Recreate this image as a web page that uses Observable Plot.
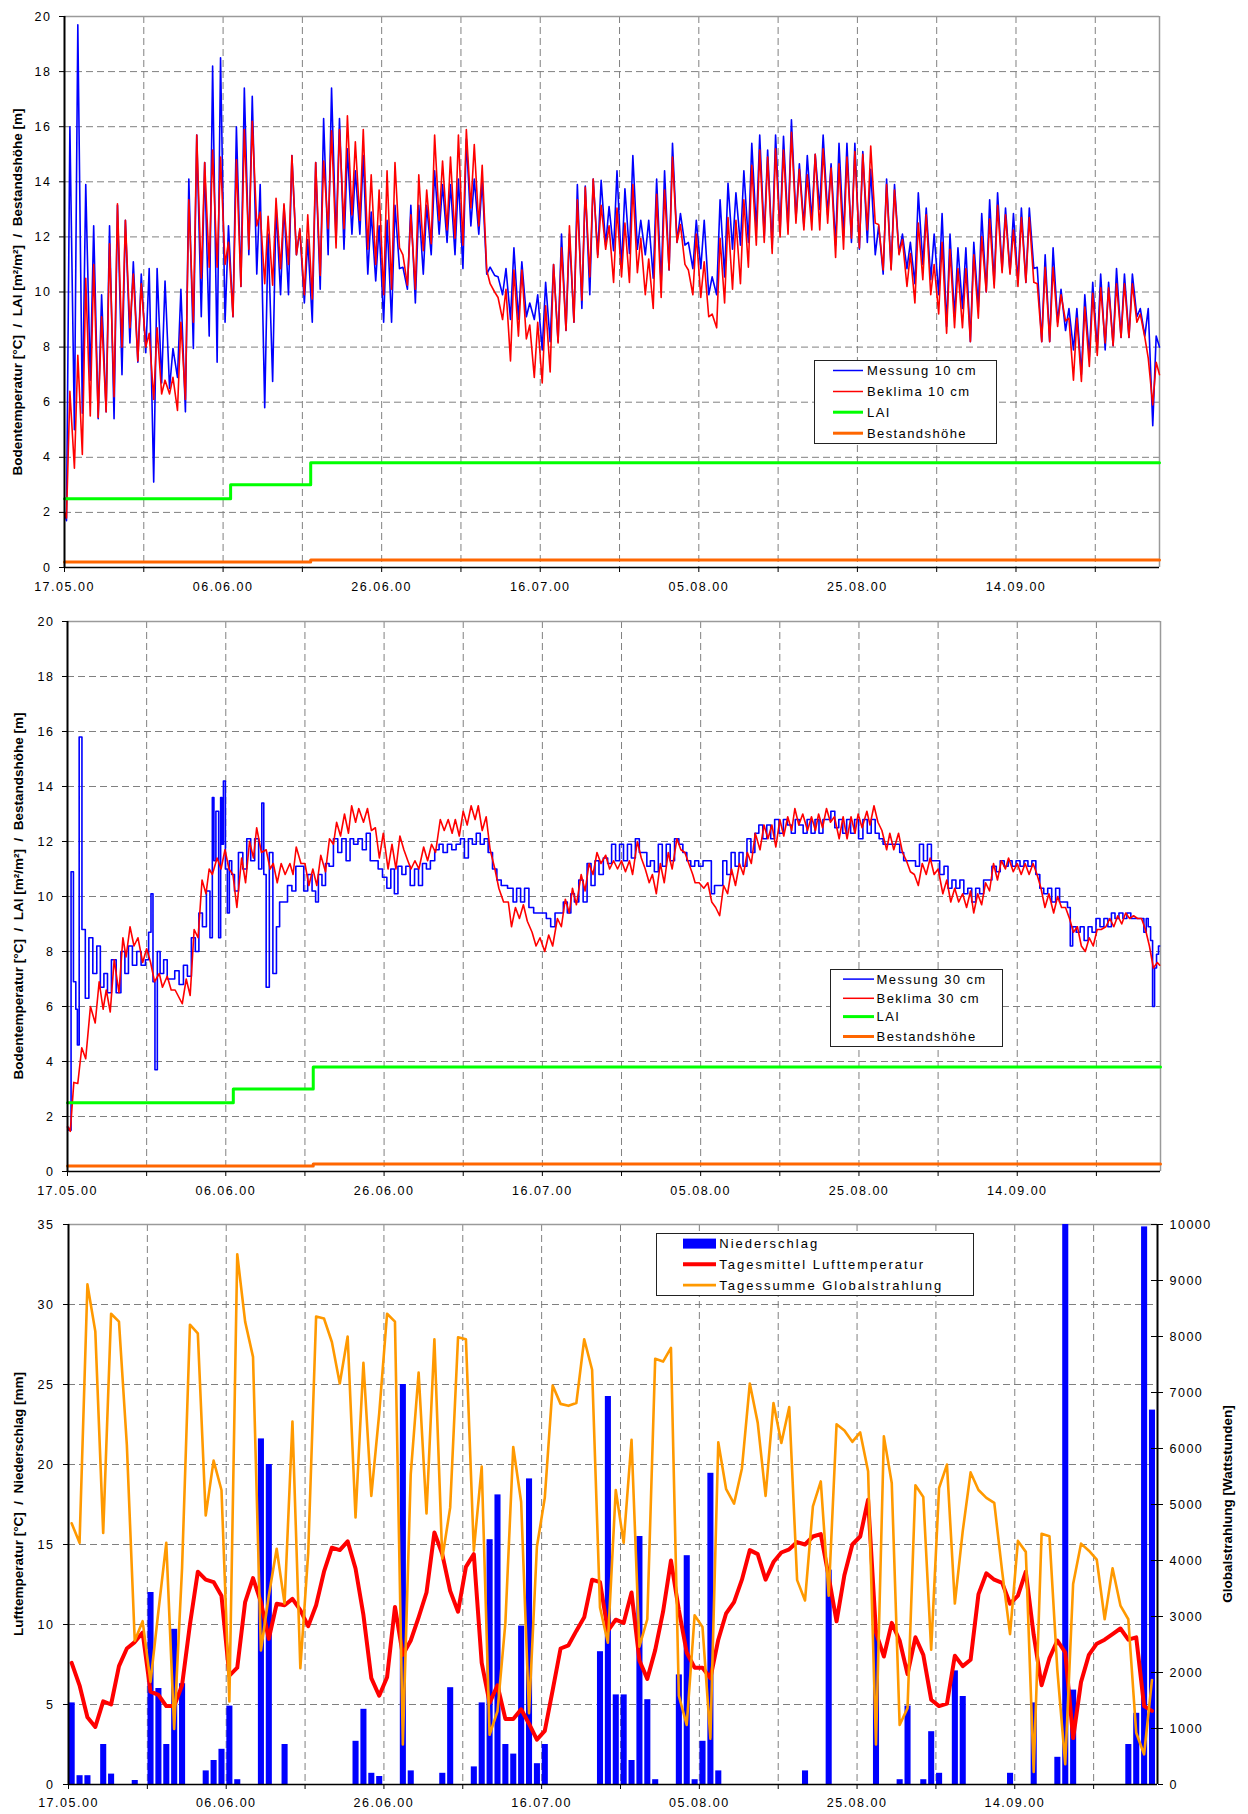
<!DOCTYPE html>
<html><head><meta charset="utf-8">
<script src="https://cdn.jsdelivr.net/npm/d3@7"></script>
<script src="https://cdn.jsdelivr.net/npm/@observablehq/plot@0.6"></script>
<style>
html,body{margin:0;padding:0;background:#fff;}
#wrap{position:relative;width:1248px;height:1814px;overflow:hidden;font-family:"Liberation Sans",Arial,sans-serif;}
#wrap svg.panel{position:absolute;left:0;}
#wrap svg.panel text{letter-spacing:1.5px;}
.ytitle{position:absolute;white-space:pre;font-weight:bold;font-size:13.5px;line-height:15px;transform:translate(-50%,-50%) rotate(-90deg);color:#000;}
.legend{position:absolute;border:1.5px solid #222;background:#fff;box-sizing:border-box;}
</style></head>
<body><div id="wrap"></div>
<script>
// ---------- shared axis data ----------
const xEnd = 138.1;                      // days after 17.05.00 shown on the axes
const tickDays = [0,10,20,30,40,50,60,70,80,90,100,110,120,130];
const gridDays = [10,20,30,40,50,60,70,80,90,100,110,120,130];
const dateLabelDays = [0,20,40,60,80,100,120];
const dateLabels = ["17.05.00","06.06.00","26.06.00","16.07.00","05.08.00","25.08.00","14.09.00"];

// ---------- panel 1: 10 cm (daily low / high values) ----------
const mess10Lo = [1.7,5.0,5.6,6.8,5.4,5.65,5.4,7.0,8.15,7.45,
 7.8,3.1,6.7,6.5,6.9,5.65,7.95,9.1,8.4,7.45,
 8.9,9.1,10.2,11.35,10.65,5.8,6.75,9.9,9.9,11.35,
 9.6,8.9,10.1,11.35,11.8,11.55,12.1,12.1,10.65,10.4,
 8.9,8.9,10.85,10.1,9.6,10.65,11.35,12.1,11.8,11.35,
 10.85,12.4,12.1,10.65,10.6,9.9,9.0,9.0,9.1,9.0,
 7.9,8.2,8.2,8.6,8.9,9.4,9.9,11.35,11.7,11.5,
 10.85,11.4,11.55,11.35,10.5,10.3,10.8,11.8,11.7,10.85,
 10.85,9.9,9.9,10.55,11.55,11.7,11.8,12.25,12.0,11.6,
 12.2,12.3,12.65,12.4,12.6,13.0,12.8,11.7,12.0,11.8,
 11.55,11.8,11.35,10.65,10.85,11.4,10.85,10.3,11.0,10.45,
 9.9,8.75,9.1,9.4,8.2,9.45,10.0,10.3,10.8,10.7,
 10.35,10.35,10.85,8.2,8.2,8.9,8.6,7.9,7.0,7.65,
 7.9,7.9,8.05,8.35,8.35,9.1,8.4,5.15];
const mess10Hi = [16.0,19.7,13.9,12.4,9.9,12.4,13.15,12.6,11.1,10.65,
 10.85,10.85,10.4,7.95,10.1,14.1,15.7,14.7,18.2,18.5,
 12.4,16.0,17.4,17.1,13.9,12.1,13.15,13.15,14.95,12.25,
 11.9,14.7,16.3,17.4,16.3,15.2,14.4,14.95,12.9,12.4,
 12.6,13.15,10.9,13.15,13.15,13.15,14.4,13.9,13.9,14.1,
 15.55,14.1,14.05,10.9,10.55,10.85,11.6,11.1,9.6,9.9,
 10.35,11.0,12.1,12.1,13.9,13.85,14.1,14.05,13.1,14.4,
 13.75,14.95,12.6,12.6,14.1,14.4,15.4,12.85,11.8,12.6,
 12.6,10.55,13.35,13.95,13.6,14.4,15.4,15.7,15.15,15.7,
 15.65,16.25,14.65,14.95,15.0,15.7,14.65,15.4,15.4,15.4,
 15.1,14.45,12.4,14.1,13.9,12.1,11.8,13.6,13.05,12.1,
 12.85,12.1,11.6,11.6,11.8,12.85,13.35,13.6,13.05,12.85,
 13.05,13.05,10.9,11.35,11.6,10.1,9.4,9.4,9.9,10.35,
 10.65,10.35,10.85,10.65,10.65,9.4,9.4,8.4];
const bek10Lo = [1.8,3.6,4.1,5.5,5.45,5.65,6.2,8.0,8.7,7.5,
 8.0,6.1,6.3,6.3,5.7,6.1,8.9,10.5,10.9,10.9,
 11.0,9.1,10.2,11.55,12.4,10.3,10.25,10.85,11.0,11.35,
 9.9,9.75,10.6,12.3,11.6,12.3,12.8,12.6,11.55,11.0,
 9.9,10.1,11.6,10.25,10.1,11.5,11.75,12.6,12.25,11.95,
 11.7,13.05,12.4,10.8,10.0,9.0,7.5,8.4,8.3,6.9,
 6.7,7.1,8.15,8.6,8.9,9.7,10.55,11.25,11.55,10.35,
 10.55,10.35,10.7,9.9,9.4,9.8,10.8,11.8,11.0,9.9,
 9.8,9.1,8.7,9.6,10.1,10.3,10.9,11.7,11.8,11.4,
 12.0,12.1,12.5,12.25,12.25,12.25,12.5,11.25,11.55,11.95,
 11.6,12.25,12.5,10.8,10.8,11.35,10.2,9.6,10.45,9.9,
 9.2,8.5,8.7,8.7,8.2,9.05,10.0,10.15,10.7,10.65,
 10.2,10.35,10.35,8.2,8.2,8.75,8.95,6.8,6.75,7.3,
 7.7,8.15,8.05,8.35,8.35,8.9,8.35,5.9];
const bek10Hi = [6.4,7.7,10.5,11.0,9.1,11.75,13.2,12.6,10.65,10.3,
 8.5,8.7,6.8,6.9,8.9,13.35,15.7,14.7,15.15,14.9,
 11.8,14.8,15.9,16.2,12.9,12.75,13.4,13.2,14.95,12.3,
 12.8,14.7,14.75,15.85,15.9,16.4,15.45,15.9,14.25,13.7,
 14.4,14.7,11.35,12.8,14.25,13.7,15.7,14.75,14.9,15.7,
 15.9,15.35,14.6,10.3,9.8,10.1,10.8,10.8,8.8,8.9,
 9.5,11.0,11.6,12.4,13.35,13.8,14.1,13.15,12.4,13.05,
 12.5,13.9,11.95,11.2,13.55,13.7,14.9,12.45,10.8,12.1,
 11.1,9.2,11.95,12.7,12.6,13.35,14.6,15.15,14.9,15.2,
 15.15,15.8,14.45,14.25,15.0,15.2,14.5,14.65,14.9,15.1,
 15.0,15.3,12.45,13.9,13.7,11.9,11.4,12.5,12.8,11.0,
 11.8,11.55,10.85,10.85,11.35,12.0,12.65,13.15,12.8,12.25,
 12.7,12.7,10.3,10.9,10.9,9.9,9.05,9.05,9.45,9.95,
 10.15,10.15,10.3,10.3,10.3,9.2,7.6,7.45];
const mess10StartEnd = [2.0, 8.0];
const bek10StartEnd = [2.0, 7.0];

// LAI and Bestandshöhe (step changes)
const laiT = [0, 20.95, 31.05, 138.1];
const laiV = [2.5, 3.0, 3.8, 3.8];
const hoeheT = [0, 31.05, 138.1];
const hoeheV = [0.2, 0.27, 0.27];

// ---------- panel 2: 30 cm ([day, value] vertices) ----------
const mess30 = [[0,1.6],[0.3,1.5],[0.6,10.9],[0.9,6.9],[1.2,5.9],[1.3,4.6],[1.65,15.8],[2.0,8.8],[2.5,6.3],[2.9,8.5],[3.5,7.2],[3.9,8.2],[4.4,6.7],[4.8,7.2],[5.3,6.5],[5.8,7.7],[6.5,6.5],[7.0,8.0],[7.5,7.2],[7.9,8.2],[8.5,7.5],[9.0,8.0],[9.6,7.5],[10.1,7.7],[10.4,8.7],[10.7,10.1],[10.9,6.9],[11.2,3.7],[11.5,8.0],[11.9,7.2],[12.4,7.7],[12.8,7.0],[13.3,7.0],[13.8,7.3],[14.4,6.8],[14.9,7.5],[15.4,7.1],[15.9,8.5],[16.4,8.0],[16.8,9.4],[17.3,8.9],[17.8,10.2],[18.2,8.5],[18.4,13.6],[18.6,11.3],[18.9,13.1],[19.3,8.5],[19.4,13.6],[19.6,11.9],[19.8,14.2],[20.1,11.0],[20.3,9.4],[20.6,11.3],[20.9,10.8],[21.3,10.2],[21.9,11.6],[22.4,11.0],[22.9,12.1],[23.4,11.3],[23.9,12.1],[24.4,11.0],[24.7,13.4],[24.9,10.8],[25.3,6.7],[25.7,11.6],[26.2,7.2],[26.6,8.9],[27.0,9.8],[27.5,9.8],[28.1,10.4],[28.6,10.2],[29.1,11.1],[29.6,11.1],[30.1,10.2],[30.6,10.8],[31.2,10.2],[31.5,9.8],[31.9,10.8],[32.4,10.4],[32.8,11.2],[33.3,11.1],[33.9,12.1],[34.4,11.6],[34.9,12.1],[35.5,11.3],[35.9,12.1],[36.4,11.9],[37.0,12.1],[37.5,11.7],[38.0,12.3],[38.5,11.3],[39.0,11.3],[39.5,11.0],[40.1,10.7],[40.6,10.3],[41.1,11.0],[41.5,10.1],[42.0,11.1],[42.5,10.8],[43.0,11.1],[43.6,10.4],[44.1,11.0],[44.6,10.4],[45.1,11.2],[45.6,11.0],[46.1,11.3],[46.7,11.7],[47.2,11.9],[47.7,11.6],[48.3,11.9],[48.8,11.7],[49.4,11.9],[49.9,12.1],[50.4,11.4],[50.9,12.1],[51.4,11.9],[51.9,12.3],[52.4,11.9],[52.9,12.1],[53.4,11.6],[54.0,11.0],[54.5,10.6],[55.1,10.4],[56.1,10.3],[56.5,9.8],[57.0,10.3],[57.5,9.8],[58.0,10.3],[58.6,9.6],[59.2,9.4],[60.2,9.4],[60.8,9.2],[61.3,8.9],[61.9,9.4],[62.4,9.4],[62.9,9.8],[63.4,9.4],[63.8,10.1],[64.3,9.8],[64.9,10.6],[65.4,9.8],[65.9,11.2],[66.4,10.4],[66.9,11.3],[67.4,10.8],[68.0,11.4],[68.5,11.2],[69.0,11.9],[69.5,11.3],[70.0,11.9],[70.5,11.3],[71.0,11.9],[71.5,11.4],[72.0,12.1],[72.5,11.6],[73.0,11.6],[73.4,11.1],[73.9,11.3],[74.4,10.9],[74.9,11.9],[75.4,11.1],[75.9,11.9],[76.4,11.3],[77.0,12.1],[77.5,11.9],[78.0,11.6],[78.5,11.3],[79.0,11.1],[79.5,11.3],[80.0,11.1],[80.6,11.3],[81.2,11.3],[81.5,10.1],[82.0,10.4],[82.6,10.4],[83.0,11.3],[83.6,10.8],[84.1,11.6],[84.6,11.1],[85.1,11.6],[85.6,11.1],[86.1,12.1],[86.6,11.6],[87.1,12.3],[87.6,12.6],[88.1,12.1],[88.6,12.6],[89.1,12.1],[89.6,12.8],[90.2,12.3],[90.7,12.8],[91.2,12.6],[91.7,12.3],[92.2,12.8],[92.7,12.6],[93.2,12.3],[93.7,12.8],[94.2,12.3],[94.7,12.8],[95.2,12.3],[95.7,12.8],[96.2,12.8],[96.7,13.1],[97.2,12.5],[97.7,12.8],[98.2,12.3],[98.7,12.8],[99.2,12.3],[99.7,12.8],[100.2,12.1],[100.8,12.8],[101.3,12.3],[101.8,12.8],[102.3,12.3],[102.8,12.1],[103.3,11.9],[104.4,11.9],[104.9,11.9],[105.4,11.6],[105.9,11.3],[106.9,11.3],[107.4,11.1],[107.9,11.9],[108.4,11.3],[108.9,11.9],[109.4,11.3],[109.9,11.3],[110.5,10.8],[111.0,11.1],[111.5,10.3],[112.0,10.6],[112.5,10.3],[113.0,10.6],[113.5,10.1],[114.0,10.3],[114.5,9.8],[115.0,10.3],[115.5,10.1],[116.0,10.6],[116.5,10.6],[117.1,11.1],[117.6,10.9],[118.1,11.3],[118.6,11.1],[119.1,11.3],[119.6,11.1],[120.1,11.3],[120.6,11.1],[121.1,11.3],[121.6,11.1],[122.1,11.3],[122.6,10.8],[123.1,10.3],[123.6,10.1],[124.1,10.3],[124.6,9.8],[125.1,10.3],[125.6,9.8],[126.1,9.8],[126.6,9.6],[126.8,8.2],[127.2,8.9],[127.7,8.7],[128.2,8.9],[128.7,8.4],[129.2,8.9],[129.7,8.7],[130.2,9.2],[130.7,8.9],[131.2,9.2],[131.7,8.9],[132.1,9.4],[132.6,9.2],[133.1,9.4],[133.6,9.2],[134.1,9.4],[134.6,9.2],[135.3,9.2],[135.8,9.2],[136.2,8.7],[136.4,9.2],[136.7,8.9],[137.0,8.4],[137.2,6.0],[137.5,7.4],[137.7,7.9],[138.0,8.2]];
const bek30 = [[0,1.64],[0.35,1.46],[0.8,3.24],[1.3,3.2],[1.8,4.5],[2.3,4.1],[2.9,6.0],[3.5,5.4],[4.0,6.9],[4.5,5.9],[4.9,6.6],[5.4,5.8],[5.9,7.7],[6.5,6.5],[7.0,8.5],[7.4,7.8],[7.9,8.9],[8.4,8.2],[8.9,8.5],[9.5,7.6],[10.0,8.1],[10.5,7.6],[11.0,6.9],[11.6,7.2],[12.0,6.7],[12.6,7.1],[13.1,6.6],[13.6,6.6],[14.5,6.1],[15.0,7.0],[15.5,6.4],[16.0,8.8],[16.5,8.5],[17.0,10.6],[17.5,10.1],[17.9,11.0],[18.3,10.8],[18.9,11.4],[19.4,11.0],[19.9,11.7],[20.4,11.0],[20.9,10.8],[21.4,9.6],[22.0,11.4],[22.5,10.5],[23.0,12.0],[23.5,11.4],[23.9,12.5],[24.5,11.6],[25.1,11.7],[25.6,11.0],[26.0,11.2],[26.5,10.5],[27.0,11.2],[27.5,10.8],[28.1,11.2],[28.5,10.8],[28.9,11.8],[29.5,11.2],[30.0,11.2],[30.5,10.4],[31.0,11.0],[31.5,10.4],[32.0,11.5],[32.6,10.9],[33.1,12.1],[33.6,11.9],[34.0,12.7],[34.5,12.2],[35.0,13.0],[35.5,12.3],[35.9,13.3],[36.4,12.7],[36.8,13.2],[37.4,12.7],[37.9,13.2],[38.4,12.4],[38.9,12.5],[39.4,11.4],[39.9,12.3],[40.5,11.0],[41.0,11.9],[41.5,11.0],[42.0,12.2],[42.5,11.7],[43.0,11.3],[43.4,11.0],[43.9,11.3],[44.4,11.0],[45.0,11.8],[45.5,11.3],[46.0,11.9],[46.5,11.6],[47.1,12.8],[47.6,12.4],[48.1,12.8],[48.6,12.3],[49.0,12.8],[49.5,12.2],[50.0,13.1],[50.5,12.6],[51.0,13.3],[51.5,12.8],[51.9,13.3],[52.4,12.4],[52.9,12.9],[53.4,11.7],[54.0,11.0],[54.5,10.3],[55.1,9.8],[55.7,9.8],[56.1,8.9],[56.6,9.6],[57.1,9.2],[57.6,9.7],[58.1,9.1],[58.7,8.7],[59.2,8.2],[59.7,8.5],[60.3,8.0],[60.8,8.6],[61.3,8.2],[61.9,9.2],[62.4,8.9],[62.9,9.9],[63.4,9.4],[63.8,10.3],[64.3,9.7],[64.9,10.8],[65.4,10.2],[65.9,11.2],[66.4,10.8],[66.9,11.6],[67.4,11.2],[68.0,11.5],[68.5,11.0],[69.0,11.3],[69.5,11.0],[70.0,11.3],[70.5,10.9],[71.0,11.3],[71.4,10.8],[72.0,12.0],[72.5,11.4],[73.0,11.0],[73.5,10.5],[73.9,10.8],[74.4,10.1],[74.9,11.2],[75.4,10.5],[75.9,11.6],[76.4,11.0],[77.0,12.1],[77.5,11.7],[78.0,11.6],[78.5,11.2],[79.0,10.8],[79.3,10.5],[79.8,10.5],[80.4,10.3],[80.9,10.5],[81.4,9.8],[81.9,9.6],[82.4,9.3],[82.9,10.4],[83.4,10.1],[83.9,11.0],[84.4,10.4],[84.9,11.2],[85.4,10.8],[85.9,11.6],[86.4,11.2],[86.9,12.3],[87.5,11.7],[88.0,12.6],[88.5,12.1],[89.0,12.6],[89.5,11.8],[90.0,12.8],[90.5,12.2],[91.0,12.9],[91.5,12.4],[91.9,13.2],[92.4,12.6],[92.9,13.0],[93.5,12.4],[94.0,12.9],[94.5,12.4],[94.9,13.0],[95.4,12.5],[95.9,13.2],[96.4,12.7],[96.9,12.9],[97.5,12.1],[98.0,12.9],[98.5,12.1],[99.0,12.9],[99.5,12.3],[99.9,13.0],[100.4,12.5],[101.0,13.1],[101.4,12.6],[101.9,13.3],[102.4,12.7],[102.9,12.4],[103.5,11.7],[103.9,12.3],[104.4,11.7],[105.0,12.3],[105.5,11.6],[106.0,11.3],[106.5,10.9],[107.0,10.8],[107.5,10.4],[108.0,11.2],[108.5,10.8],[109.0,11.4],[109.5,10.8],[110.0,11.0],[110.6,10.1],[111.1,10.6],[111.6,9.8],[112.1,10.3],[112.6,9.8],[113.1,10.1],[113.6,9.6],[114.1,10.2],[114.5,9.4],[115.0,10.1],[115.5,9.7],[116.0,10.5],[116.5,10.2],[117.0,11.2],[117.5,10.6],[118.0,11.3],[118.5,11.0],[118.9,11.4],[119.5,10.9],[120.0,11.2],[120.5,10.8],[121.0,11.2],[121.5,10.8],[122.0,11.2],[122.5,10.8],[123.0,10.3],[123.5,9.6],[124.0,10.1],[124.6,9.4],[125.1,10.0],[125.6,9.6],[126.1,9.6],[126.6,9.2],[127.1,8.7],[127.6,8.9],[128.1,8.2],[128.6,8.0],[129.1,8.5],[129.6,8.2],[130.1,8.8],[130.6,8.8],[131.2,8.9],[131.7,9.2],[132.2,8.9],[132.7,9.3],[133.2,9.0],[133.7,9.4],[134.2,9.2],[134.7,9.3],[135.2,9.2],[135.7,9.2],[136.2,8.8],[136.7,8.2],[137.2,7.4],[137.7,7.6],[138.0,7.5]];

// ---------- panel 3: daily values (day 0 = 17.05.00) ----------
const niederschlag = [5.1,0.55,0.55,0,2.5,0.65,0,0,0.25,0,
 12.0,6.0,2.5,9.7,6.3,0,0,0.85,1.5,2.2,
 4.9,0.3,0,0,21.6,20.0,0,2.5,0,0,
 0,0,0,0,0,0,2.7,4.7,0.7,0.5,
 0,0,25.0,0.85,0,0,0,0.7,6.05,0,
 0,1.1,5.1,15.3,18.1,2.5,1.9,9.9,19.1,1.3,
 2.5,0,0,0,0,0,0,8.3,24.25,5.6,
 5.6,1.5,15.5,5.3,0.3,0,0,6.85,14.3,0.3,
 2.7,19.45,0.85,0,0,0,0,0,0,0,
 0,0,0,0.85,0,0,13.4,0,0,0,
 0,0,9.6,0,0,0.3,4.9,0,0.3,3.3,
 0.7,0,7.1,5.5,0,0,0,0,0,0.7,
 0,0,5.1,0,0,1.7,36,5.9,0,0,
 0,0,0,0,2.5,4.45,34.85,23.4];
const tagesmittel = [7.6,6.2,4.2,3.6,5.2,5.0,7.4,8.5,8.9,9.5,
 5.8,5.6,4.9,4.9,6.2,10.0,13.3,12.8,12.65,11.8,
 6.8,7.3,11.4,12.9,11.4,9.1,11.3,11.2,11.6,10.9,
 9.9,11.2,13.3,14.8,14.65,15.2,13.5,10.6,6.65,5.55,
 6.7,11.1,8.1,9.0,10.45,12.0,15.75,14.4,12.1,10.8,
 13.6,14.4,7.6,5.1,6.2,4.1,4.1,4.7,3.8,2.8,
 3.35,5.9,8.5,8.7,9.6,10.45,12.8,12.65,9.6,10.3,
 10.1,12.0,7.75,6.6,8.4,10.8,14.0,10.9,8.25,7.3,
 7.3,6.65,9.05,10.7,11.4,12.8,14.65,14.4,12.8,13.9,
 14.5,14.7,15.15,15.0,15.5,15.65,13.0,10.2,13.1,15.0,
 15.5,17.8,9.5,8.0,10.1,9.0,6.9,9.2,8.1,5.3,
 4.9,5.05,8.05,7.4,7.8,11.9,13.2,12.8,12.6,11.3,
 11.8,13.3,9.35,6.2,7.9,9.0,8.25,2.9,6.4,8.1,
 8.8,9.05,9.4,9.75,9.05,9.2,4.9,4.6];
const globalstrahlung = [4664,4315,8930,8091,4490,8406,8266,6063,2566,2916,
 1832,3090,4315,993,3860,8210,8056,4804,5783,5259,
 1483,9469,8266,7636,2392,3371,4210,3231,6483,2077,
 4140,8357,8322,7902,7161,8000,4769,7531,5154,6622,
 8406,8266,713,5538,7357,4839,7951,4035,4944,7986,
 7951,4175,5678,888,1308,2881,6028,5049,1273,4245,
 5119,7126,6797,6762,6811,7951,7406,3161,2531,5259,
 4315,6154,2462,2951,7601,7552,7797,1587,1063,3021,
 2811,818,6112,5273,5014,5643,7161,6462,5154,6811,
 6098,6741,3650,3287,4965,5413,3371,6434,6322,6119,
 6287,5594,713,6217,5385,1063,1364,5343,5133,2406,
 5294,5713,3231,4524,5573,5259,5119,5028,3804,2685,
 4350,4154,224,4476,4434,2042,364,3580,4301,4175,
 4014,2951,3860,3196,2951,923,538,1867];

// ---------- texts ----------
const titleSoil = "Bodentemperatur [°C]  /  LAI [m²/m²]  /  Bestandshöhe [m]";
const titleAir = "Lufttemperatur [°C]  /  Niederschlag [mm]";
const titleRad = "Globalstrahlung [Wattstunden]";
const legend1Labels = ["Messung 10 cm","Beklima 10 cm","LAI","Bestandshöhe"];
const legend2Labels = ["Messung 30 cm","Beklima 30 cm","LAI","Bestandshöhe"];
const legend3Labels = ["Niederschlag","Tagesmittel Lufttemperatur","Tagessumme Globalstrahlung"];

// ---------- colours ----------
const BLUE = "#0000ff", RED = "#ff0000", GREEN = "#00ff00", ORANGE = "#ff6600", AMBER = "#ff9900";
const GRID = "#808080", BORDER = "#9a9a9a";
const FONT = "'Liberation Sans', Arial, sans-serif";

const wrap = document.getElementById("wrap");
const fmtDate = d => { const i = dateLabelDays.indexOf(d); return i >= 0 ? dateLabels[i] : ""; };

function diurnal(lo, hi, se) {
  const pts = [[0, se[0]]];
  lo.forEach((v, d) => { pts.push([d + 0.25, v]); pts.push([d + 0.68, hi[d]]); });
  pts.push([xEnd, se[1]]);
  return pts;
}
const stepPts = (T, V) => T.map((t, i) => [t, V[i]]);

function place(svg, top) {
  svg.classList.add("panel");
  svg.style.top = top + "px";
  wrap.appendChild(svg);
}
const baseStyle = {fontFamily: FONT, fontSize: "12.5px", overflow: "visible", background: "transparent", color: "#000"};

function soilPanel(top, m, blueData, redData, blueCurve) {
  const svg = Plot.plot({
    width: 1248, height: 600,
    marginTop: m.t, marginBottom: m.b, marginLeft: m.l, marginRight: m.r,
    x: {domain: [0, xEnd]}, y: {domain: [0, 20]},
    style: baseStyle,
    marks: [
      Plot.ruleY(d3.range(2, 20, 2), {stroke: GRID, strokeWidth: 1, strokeDasharray: "7,4"}),
      Plot.ruleX(gridDays, {stroke: GRID, strokeWidth: 1, strokeDasharray: "7,4"}),
      Plot.ruleY([20], {stroke: BORDER, strokeWidth: 1.5}),
      Plot.ruleX([xEnd], {stroke: BORDER, strokeWidth: 1.5}),
      Plot.line(blueData, {stroke: BLUE, strokeWidth: 1.6, curve: blueCurve}),
      Plot.line(redData, {stroke: RED, strokeWidth: 1.6}),
      Plot.line(stepPts(laiT, laiV), {stroke: GREEN, strokeWidth: 3, curve: "step-after"}),
      Plot.line(stepPts(hoeheT, hoeheV), {stroke: ORANGE, strokeWidth: 3, curve: "step-after"}),
      Plot.ruleX([0], {stroke: "#000", strokeWidth: 2}),
      Plot.ruleY([0], {stroke: "#000", strokeWidth: 1.5}),
      Plot.axisY({ticks: d3.range(0, 21, 2), tickSize: 5, tickPadding: 8, label: null}),
      Plot.axisX({ticks: tickDays, tickFormat: fmtDate, tickSize: 5, tickPadding: 10, label: null})
    ]
  });
  place(svg, top);
}

soilPanel(0, {t: 16, b: 33, l: 64, r: 89}, diurnal(mess10Lo, mess10Hi, mess10StartEnd), diurnal(bek10Lo, bek10Hi, bek10StartEnd), "linear");
soilPanel(600, {t: 21, b: 29, l: 67, r: 88}, mess30, bek30, "step");

// panel 3
const radK = 35 / 10000;
const radTicks = d3.range(0, 10001, 1000).map(v => v * radK);
const days = niederschlag.map((_, i) => i);
const svg3 = Plot.plot({
  width: 1248, height: 614,
  marginTop: 24, marginBottom: 30, marginLeft: 68, marginRight: 91,
  x: {domain: [0, xEnd]}, y: {domain: [0, 35]},
  style: baseStyle,
  marks: [
    Plot.ruleY(d3.range(5, 35, 5), {stroke: GRID, strokeWidth: 1, strokeDasharray: "7,4"}),
    Plot.ruleX(gridDays, {stroke: GRID, strokeWidth: 1, strokeDasharray: "7,4"}),
    Plot.ruleY([35], {stroke: BORDER, strokeWidth: 1.5}),
    Plot.rectY(days, {x1: d => d + 0.08, x2: d => d + 0.85, y1: 0, y2: d => niederschlag[d], fill: BLUE, clip: true}),
    Plot.line(days, {x: d => d + 0.4, y: d => tagesmittel[d], stroke: RED, strokeWidth: 4, strokeLinejoin: "round"}),
    Plot.line(days, {x: d => d + 0.4, y: d => globalstrahlung[d] * radK, stroke: AMBER, strokeWidth: 2.6}),
    Plot.ruleX([0], {stroke: "#000", strokeWidth: 2}),
    Plot.ruleX([xEnd], {stroke: "#000", strokeWidth: 2}),
    Plot.ruleY([0], {stroke: "#000", strokeWidth: 1.5}),
    Plot.ruleY(radTicks, {x1: xEnd, x2: xEnd, insetLeft: -6, stroke: "#000"}),
    Plot.axisY({ticks: d3.range(0, 36, 5), tickSize: 5, tickPadding: 9, label: null}),
    Plot.axisY({anchor: "right", ticks: radTicks, tickFormat: v => String(Math.round(v / radK)), tickSize: 5, tickPadding: 7, label: null}),
    Plot.axisX({ticks: tickDays, tickFormat: fmtDate, tickSize: 5, tickPadding: 9, label: null})
  ]
});
place(svg3, 1200);

// ---------- axis titles ----------
function ytitle(text, cx, cy) {
  const d = document.createElement("div");
  d.className = "ytitle";
  d.textContent = text;
  d.style.left = cx + "px";
  d.style.top = cy + "px";
  wrap.appendChild(d);
}
ytitle(titleSoil, 17, 292);
ytitle(titleSoil, 18, 896);
ytitle(titleAir, 18, 1504);
ytitle(titleRad, 1227, 1504);

// ---------- legends ----------
function legend(box, items, sw, textX, spacing) {
  const div = document.createElement("div");
  div.className = "legend";
  Object.assign(div.style, {left: box.x + "px", top: box.y + "px", width: box.w + "px", height: box.h + "px"});
  const s = d3.create("svg").attr("width", box.w).attr("height", box.h)
    .style("position", "absolute").style("left", "-1.5px").style("top", "-1.5px").style("overflow", "visible");
  items.forEach(it => {
    if (it.rect) {
      s.append("rect").attr("x", sw[0]).attr("y", it.y - 5).attr("width", sw[1] - sw[0]).attr("height", 10).attr("fill", it.color);
    } else {
      s.append("line").attr("x1", sw[0]).attr("x2", sw[1]).attr("y1", it.y).attr("y2", it.y)
        .attr("stroke", it.color).attr("stroke-width", it.w);
    }
    s.append("text").attr("x", textX).attr("y", it.y).attr("dy", "0.36em")
      .attr("font-family", FONT).attr("font-size", 13).attr("letter-spacing", spacing).attr("fill", "#000")
      .text(it.label);
  });
  div.appendChild(s.node());
  wrap.appendChild(div);
}
const soilColors = [BLUE, RED, GREEN, ORANGE], soilWidths = [1.5, 1.5, 3, 3];
legend({x: 814, y: 360, w: 183, h: 84},
  legend1Labels.map((l, i) => ({label: l, color: soilColors[i], w: soilWidths[i], y: [10.5, 31.5, 52.2, 73.2][i]})),
  [19, 49], 53, 1.4);
legend({x: 829.5, y: 968.5, w: 173.5, h: 78},
  legend2Labels.map((l, i) => ({label: l, color: soilColors[i], w: soilWidths[i], y: [11.1, 30.3, 48.6, 68.5][i]})),
  [14, 45], 47.6, 1.4);
legend({x: 656, y: 1233, w: 317.5, h: 63},
  legend3Labels.map((l, i) => ({label: l, color: [BLUE, RED, AMBER][i], w: [0, 4, 2.6][i], rect: i === 0, y: [10.6, 31.3, 52.1][i]})),
  [27, 60], 63.3, 2.0);
</script></body></html>
